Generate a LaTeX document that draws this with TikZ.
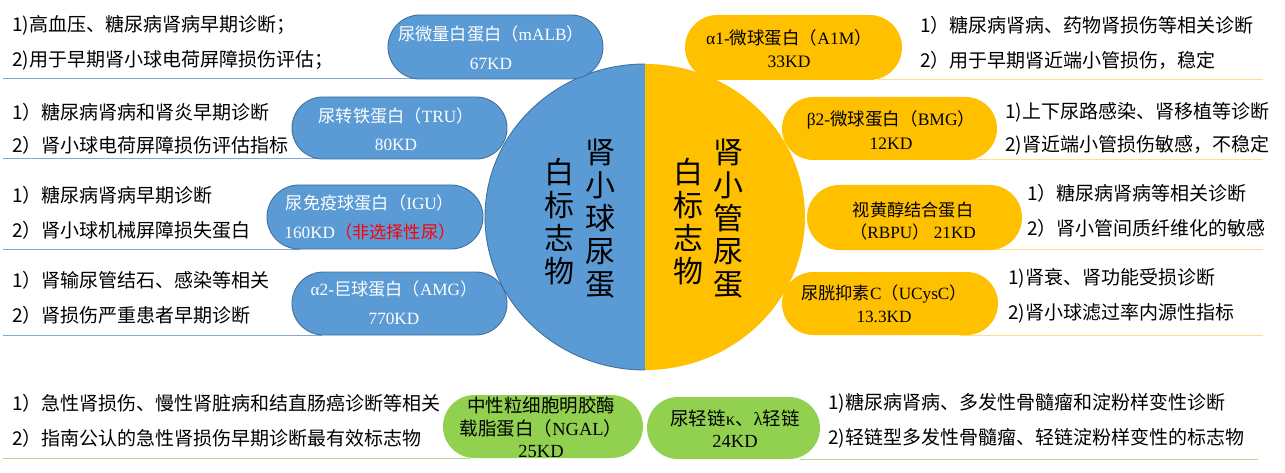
\documentclass[tikz,border=0pt]{standalone}
\usepackage{fontspec}
\setmainfont{Liberation Serif}
\newfontfamily\cjk{Noto Sans CJK SC}
\definecolor{cblue}{HTML}{5B9BD5}
\definecolor{cbluedk}{HTML}{41719C}
\definecolor{corange}{HTML}{FFC000}
\definecolor{cgreen}{HTML}{92D050}
\definecolor{lblue}{HTML}{7FA9D9}
\definecolor{lorange}{HTML}{FFE08A}
\definecolor{lgreen}{HTML}{B4D98C}
\newcommand\C[1]{{\cjk #1}}
\begin{document}
\begin{tikzpicture}[x=1pt,y=-1pt,
  bpill/.style={fill=cblue,draw=cbluedk,line width=0.9pt,inner sep=0pt},
  opill/.style={fill=corange,inner sep=0pt},
  gpill/.style={fill=cgreen,inner sep=0pt},
  ptext/.style={inner sep=0pt,align=center,font=\fontsize{17.2}{28.5}\selectfont},
  wtext/.style={ptext,text=white},
  side/.style={anchor=west,inner sep=0pt,font=\cjk\fontsize{19}{22}\selectfont},
  ctext/.style={inner sep=0pt,align=center,font=\cjk\fontsize{30}{33}\selectfont},
  bline/.style={draw=lblue,line width=1pt},
  oline/.style={draw=lorange,line width=1pt},
  gline/.style={draw=lgreen,line width=1pt}]
\useasboundingbox (0,0) rectangle (1285,473);
\fill[white] (0,0) rectangle (1285,473);
% separator lines
\draw[bline] (3,79) -- (420,79);
\draw[bline] (3,159) -- (322,159);
\draw[bline] (3,249) -- (300,249);
\draw[bline] (3,335) -- (322,335);
\draw[oline] (878,80) -- (1263,80);
\draw[oline] (960,160) -- (1263,160);
\draw[oline] (993,249) -- (1263,249);
\draw[oline] (960,335) -- (1263,335);
\draw[gline] (3,458) -- (470,458);
\draw[gline] (800,459) -- (1258,459);
% central circle
\begin{scope}
\clip (470,50) rectangle (645,385);
\fill[cblue] (645,217) ellipse[x radius=160,y radius=153];
\draw[cbluedk,line width=0.9pt] (645,217) ellipse[x radius=160,y radius=153];
\end{scope}
\begin{scope}
\clip (645,50) rectangle (820,385);
\fill[corange] (645,217) ellipse[x radius=160,y radius=153];
\end{scope}
\node[ctext] (c1) at (600,219) {肾\\小\\球\\尿\\蛋};
\node[ctext] (c2) at (559,221.5) {白\\标\\志\\物};
\node[ctext] (c3) at (728,219) {肾\\小\\管\\尿\\蛋};
\node[ctext] (c4) at (688,221.5) {白\\标\\志\\物};
% pills
\node[bpill,minimum width=215pt,minimum height=64pt,rounded corners=32pt] (malb) at (495.5,47) {};
\node[bpill,minimum width=215pt,minimum height=62pt,rounded corners=31pt] (tru) at (399.5,128) {};
\node[bpill,minimum width=216pt,minimum height=64pt,rounded corners=32pt] (igu) at (375,217) {};
\node[bpill,minimum width=215pt,minimum height=63pt,rounded corners=31.5pt] (amg) at (399.5,303.5) {};
\node[opill,minimum width=217pt,minimum height=65pt,rounded corners=32.5pt] (a1m) at (793.5,47.5) {};
\node[opill,minimum width=215pt,minimum height=63pt,rounded corners=31.5pt] (bmg) at (889.5,128.5) {};
\node[opill,minimum width=215pt,minimum height=65pt,rounded corners=32.5pt] (rbpu) at (914.5,217.5) {};
\node[opill,minimum width=216pt,minimum height=63pt,rounded corners=31.5pt] (ucysc) at (890,303.5) {};
\node[gpill,minimum width=200pt,minimum height=63pt,rounded corners=31.5pt] (ngal) at (543,426.5) {};
\node[gpill,minimum width=173pt,minimum height=62pt,rounded corners=31pt] (kl) at (733.5,428) {};
% pill texts
\node[wtext] (malbt) at (491,47.5) {\C{尿微量白蛋白（}mALB\C{）}\\67KD};
\node[wtext] (trut) at (396,129) {\C{尿转铁蛋白（}TRU\C{）}\\80KD};
\node[wtext] (igut) at (370,217.5) {\C{尿免疫球蛋白（}IGU\C{）}\\160KD\textcolor{red}{\C{（非选择性尿）}}};
\node[wtext] (amgt) at (394,302.5) {α2-\C{巨球蛋白（}AMG\C{）}\\770KD};
\node[ptext,font=\fontsize{17.5}{23}\selectfont] (a1mt) at (789,48.5) {α1-\C{微球蛋白（}A1M\C{）}\\33KD};
\node[ptext,font=\fontsize{17.5}{24}\selectfont] (bmgt) at (891,130) {β2-\C{微球蛋白（}BMG\C{）}\\12KD};
\node[ptext,font=\fontsize{17.2}{22}\selectfont] (rbput) at (913,221) {\C{视黄醇结合蛋白}\\\C{（}RBPU\C{）} 21KD};
\node[ptext,font=\fontsize{17.2}{23}\selectfont] (ucysct) at (884,303.5) {\C{尿胱抑素}C\C{（}UCysC\C{）}\\13.3KD};
\node[ptext,font=\fontsize{18.5}{22.5}\selectfont] (ngalt) at (541,427.5) {\C{中性粒细胞明胶酶}\\\C{载脂蛋白（}NGAL\C{）}\\25KD};
\node[ptext,font=\fontsize{18.5}{22}\selectfont] (klt) at (735,429) {\C{尿轻链}κ\C{、}λ\C{轻链}\\24KD};
% side texts left
\node[side] (l1a) at (12,25) {1)高血压、糖尿病肾病早期诊断；};
\node[side] (l1b) at (12,60) {2)用于早期肾小球电荷屏障损伤评估；};
\node[side] (l2a) at (12,112) {1）糖尿病肾病和肾炎早期诊断};
\node[side] (l2b) at (12,145) {2）肾小球电荷屏障损伤评估指标};
\node[side] (l3a) at (12,195) {1）糖尿病肾病早期诊断};
\node[side] (l3b) at (12,230) {2）肾小球机械屏障损失蛋白};
\node[side] (l4a) at (12,280) {1）肾输尿管结石、感染等相关};
\node[side] (l4b) at (12,315) {2）肾损伤严重患者早期诊断};
% side texts right
\node[side] (r1a) at (920,25) {1）糖尿病肾病、药物肾损伤等相关诊断};
\node[side] (r1b) at (920,60) {2）用于早期肾近端小管损伤，稳定};
\node[side] (r2a) at (1005,112) {1)上下尿路感染、肾移植等诊断};
\node[side] (r2b) at (1005,145) {2)肾近端小管损伤敏感，不稳定};
\node[side] (r3a) at (1027,193) {1）糖尿病肾病等相关诊断};
\node[side] (r3b) at (1027,228) {2）肾小管间质纤维化的敏感};
\node[side] (r4a) at (1008,278) {1)肾衰、肾功能受损诊断};
\node[side] (r4b) at (1008,313) {2)肾小球滤过率内源性指标};
% bottom texts
\node[side] (b1a) at (12,403) {1）急性肾损伤、慢性肾脏病和结直肠癌诊断等相关};
\node[side] (b1b) at (12,438) {2）指南公认的急性肾损伤早期诊断最有效标志物};
\node[side] (b2a) at (828,403) {1)糖尿病肾病、多发性骨髓瘤和淀粉样变性诊断};
\node[side] (b2b) at (828,438) {2)轻链型多发性骨髓瘤、轻链淀粉样变性的标志物};
\end{tikzpicture}
\end{document}
